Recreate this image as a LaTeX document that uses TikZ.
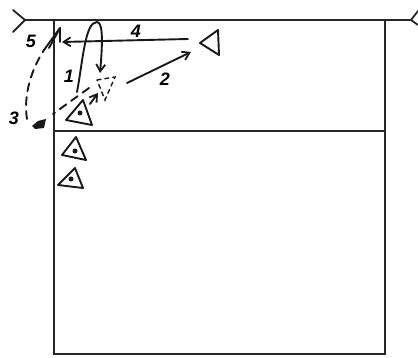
\documentclass[tikz,border=0pt]{standalone}
\usepackage{fontspec}
\setmainfont{Liberation Sans}
\usetikzlibrary{arrows.meta}
\tikzset{
  court/.style={line width=1.8pt,black!85},
  pen/.style={line width=1.9pt,line cap=round,line join=round,black!90},
  arrowpen/.style={pen,-{Straight Barb[length=7pt,width=9pt,line width=1.8pt]}},
  dashpen/.style={pen,dash pattern=on 8pt off 6pt},
  smalldash/.style={line width=1.4pt,line cap=round,dash pattern=on 4pt off 4pt,black!90},
  num/.style={font=\itshape\bfseries\fontsize{18}{18}\selectfont,inner sep=0pt},
  dotmark/.style={circle,fill=black!90,inner sep=0pt,minimum size=5pt}
}
\begin{document}
\begin{tikzpicture}[x=1pt,y=-1pt]
\useasboundingbox (0,0) rectangle (418,358);
% court
\coordinate (tl) at (25,20); \coordinate (tr) at (411,20);
\coordinate (nl) at (54,20); \coordinate (nr) at (385,20);
\coordinate (ml) at (54,131); \coordinate (mr) at (385,131);
\coordinate (bl) at (54,354); \coordinate (br) at (385,354);
\draw[court] (tl) -- (tr);
\draw[court] (nl) -- (bl) -- (br) -- (nr);
\draw[court] (ml) -- (mr);
\draw[court,line cap=round] (13,10) -- (tl) -- (13,32);
\draw[court,line cap=round] (418,11) -- (tr) -- (418,25);
% players
\draw[pen] (66,120) -- (83,100) -- (92,125) -- cycle;
\node[dotmark] (p1) at (80,113) {};
\draw[pen] (62,155) -- (76,137) -- (86,160) -- cycle;
\node[dotmark] (p2) at (75,151) {};
\draw[pen] (58,185) -- (75,168) -- (83,188) -- cycle;
\node[dotmark] (p3) at (71,179) {};
\draw[pen] (218,30) -- (200,43) -- (219,55) -- cycle;
% ghost position
\draw[smalldash] (97,80) -- (115,77) -- (105,100) -- cycle;
% paths
\coordinate (a1s) at (77,92); \coordinate (a1e) at (100,73);
\draw[arrowpen] (a1s) .. controls (83,60) and (85,22) .. (97,22)
   .. controls (104,22) and (102,50) .. (a1e);
\coordinate (a2s) at (127,83); \coordinate (a2e) at (191,52);
\draw[arrowpen] (a2s) -- (a2e);
\coordinate (a4s) at (188,39); \coordinate (a4e) at (62,42);
\draw[arrowpen] (a4s) -- (a4e);
\coordinate (a0s) at (90,104); \coordinate (a0e) at (98,93);
\draw[arrowpen] (a0s) -- (a0e);
% dashed pass
\coordinate (d1) at (89,88); \coordinate (d2) at (53,114);
\draw[dashpen] (d1) -- (d2);
\coordinate (d3) at (27,119); \coordinate (d4) at (44,50);
\draw[dashpen] (d3) .. controls (24,100) and (28,75) .. (d4);
\coordinate (ball) at (39,124);
\fill[black!90] (32,126) -- (38,121) -- (46,119) -- (44,128) -- (35,129) -- cycle;
\draw[pen] (44,50) -- (60,28);
\draw[pen] (49,48) -- (60,28) -- (60,42);
% labels
\node[num] (n1) at (69,76) {1};
\node[num] (n2) at (165,79) {2};
\node[num] (n3) at (14,118) {3};
\node[num] (n4) at (136,31) {4};
\node[num] (n5) at (31,41) {5};
\end{tikzpicture}
\end{document}
